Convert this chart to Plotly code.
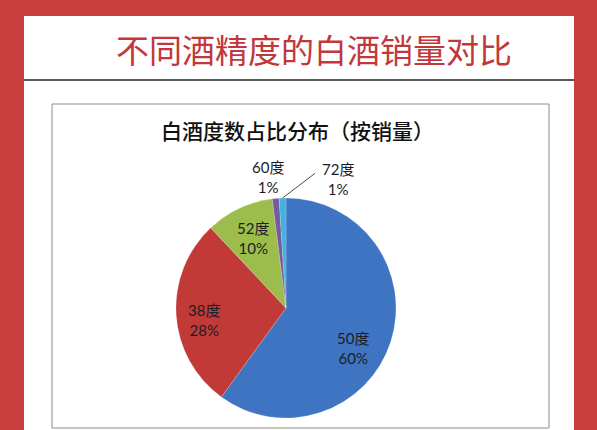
import math
import plotly.graph_objects as go

# ---- data ----
categories = ["50度", "38度", "52度", "60度", "72度"]
values = [60, 28, 10, 1, 1]
colors = ["#3f74c2", "#c13a38", "#9cbd4b", "#7a5a9e", "#41b3df"]

main_title = "不同酒精度的白酒销量对比"
chart_title = "白酒度数占比分布（按销量）"

W, H = 597, 430

def px(x):
    return x / W

def py(y):
    return 1 - y / H

# pie geometry (pixels)
cx, cy, r = 286, 308, 110

fig = go.Figure()
fig.add_trace(go.Pie(
    labels=categories,
    values=values,
    sort=False,
    direction="clockwise",
    rotation=0,
    marker=dict(colors=colors, line=dict(color="rgba(255,255,255,0.3)", width=0.6)),
    textinfo="none",
    hoverinfo="label+percent",
    showlegend=False,
    domain=dict(x=[px(cx - r), px(cx + r)], y=[py(cy + r), py(cy - r)]),
))

# label placement: radial fraction and small pixel nudges (style)
label_style = [
    dict(rf=0.70, dx=-6, dy=16),
    dict(rf=0.75, dx=0, dy=7),
    dict(rf=0.70, dx=0, dy=0),
    dict(rf=1.20, dx=-6, dy=0),
    dict(rf=1.17, dx=56, dy=0),
]

total = sum(values)
cum = 0
annotations = []
leader = []
for cat, v, st in zip(categories, values, label_style):
    mid = (cum + v / 2) / total * 2 * math.pi
    cum += v
    lx = cx + st["rf"] * r * math.sin(mid) + st["dx"]
    ly = cy - st["rf"] * r * math.cos(mid) + st["dy"]
    annotations.append(dict(
        x=px(lx), y=py(ly), xref="paper", yref="paper",
        text=f"{cat}<br>{v}%", showarrow=False,
        font=dict(family="Lato, Noto Sans CJK SC", size=15, color="#1c1c24"),
        align="center", xanchor="center", yanchor="middle",
    ))
    if st["dx"] > 30:
        ex = cx + r * math.sin(mid)
        ey = cy - r * math.cos(mid)
        leader.append(dict(type="line", xref="paper", yref="paper",
                           x0=px(ex), y0=py(ey), x1=px(lx - 23), y1=py(ly - 6),
                           line=dict(color="#333333", width=0.9), layer="above"))

# frame shapes
shapes = [
    dict(type="rect", xref="paper", yref="paper", x0=px(24), x1=px(574), y0=py(430), y1=py(16),
         fillcolor="white", line=dict(width=0), layer="below"),
    dict(type="line", xref="paper", yref="paper", x0=px(24), x1=px(574), y0=py(80), y1=py(80),
         line=dict(color="#1e2228", width=1.5), layer="below"),
    dict(type="rect", xref="paper", yref="paper", x0=px(52), x1=px(549), y0=py(428), y1=py(104),
         fillcolor="white", line=dict(color="#8c8c8c", width=1), layer="below"),
] + leader

annotations += [
    dict(x=px(314), y=py(49), xref="paper", yref="paper", text=main_title, showarrow=False,
         font=dict(family="Noto Sans CJK SC", size=33, color="#c2383a"),
         xanchor="center", yanchor="middle"),
    dict(x=px(297), y=py(130), xref="paper", yref="paper", text=chart_title, showarrow=False,
         font=dict(family="Noto Sans CJK SC", size=21, color="#111111", weight=500),
         xanchor="center", yanchor="middle"),
]

fig.update_layout(
    width=W, height=H,
    margin=dict(l=0, r=0, t=0, b=0),
    paper_bgcolor="#c83e3d",
    plot_bgcolor="white",
    shapes=shapes,
    annotations=annotations,
)

fig.write_html("out.html",
               config={"displayModeBar": False},
               post_script="document.body.style.margin='0';document.body.style.background='#c83e3d';")
